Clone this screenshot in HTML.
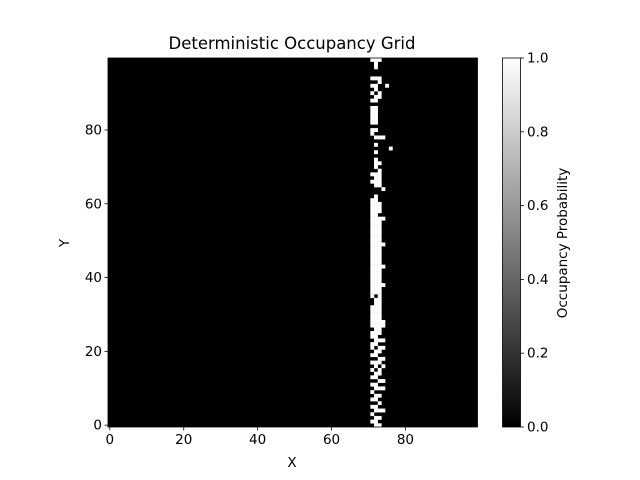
<!DOCTYPE html>
<html><head><meta charset="utf-8"><style>
body{margin:0;background:#fff;}
svg{display:block;font-family:"DejaVu Sans","Liberation Sans",sans-serif;}
</style></head><body>
<svg id="chart" width="640" height="480">
<defs><linearGradient id="cg" x1="0" y1="1" x2="0" y2="0"><stop offset="0" stop-color="#000"/><stop offset="1" stop-color="#fff"/></linearGradient></defs>
<text x="292" y="49" text-anchor="middle" font-size="16.5">Deterministic Occupancy Grid</text>
<rect x="108" y="58" width="369.5" height="369" fill="#000"/>
<g id="cells"></g>
<g id="axes"></g>
<text x="292" y="467" text-anchor="middle" font-size="13.5">X</text>
<text transform="translate(69,243) rotate(-90)" text-anchor="middle" font-size="13.5">Y</text>
<rect x="502.5" y="58" width="18" height="369" fill="url(#cg)" stroke="#000" stroke-width="0.8"/>
<g id="cbticks"></g>
<text transform="translate(567,243) rotate(-90)" text-anchor="middle" font-size="13.5">Occupancy Probability</text>
</svg>
<script>
const gridSize = 100;
const xTicks = [0,20,40,60,80];
const yTicks = [0,20,40,60,80];
const cbTicks = ["0.0","0.2","0.4","0.6","0.8","1.0"];
const occupiedRows = [
[72,73],[71,72],[72,73],[71],[72,73,74],[71,72],[73],[71,72],[72,73],[71],
[72,73,74],[71,72],[73,74],[71,72],[72,73],[71,73],[72,74],[71,72,73],[73,74],[71,72],
[72,73],[71,73,74],[71,72],[72,73,74],[71,72],[71,72,73],[72,73],[71,72,73,74],[71,72,73,74],[71,72,73],
[71,72,73],[71,72,73],[71,72,73],[72,73],[72,73],[71,73],[71,72,73],[71,72,73],[71,72,73,74],[71,72,73],
[71,72,73],[71,72,73],[71,72,73],[71,72,73,74],[71,72,73],[71,72,73],[71,72,73],[71,72,73],[71,72,73],[71,72,73,74],
[71,72,73],[71,72,73],[71,72,73],[71,72,73],[71,72,73],[71,72,73],[71,72,73,74],[71,72],[71,72,73],[71,72,73],
[71,72,73],[71,72],[72],[],[74],[72,73],[71,72,73],[72,73],[71,72,73],[73],
[72],[72,73],[72],[],[72],[76],[72],[],[72,73,74],[71],
[71,72],[],[71,72],[71,72],[71,72],[71,72],[71,72],[],[71,72],[72,73],
[71,73],[72],[71,72,75],[73],[71,72,73],[],[],[72],[72],[71,72,73]
];
const px0=108, px1=477.5, py0=427, py1=58;
const cw=(px1-px0)/gridSize, ch=(py0-py1)/gridSize;
const xs=v=>px0+(v+0.5)*cw, ys=v=>py0-(v+0.5)*ch;
const NS="http://www.w3.org/2000/svg";
const cells=document.getElementById('cells');
occupiedRows.forEach((row,y)=>{row.forEach(x=>{
  const r=document.createElementNS(NS,'rect');
  r.setAttribute('x',(xs(x)-cw/2).toFixed(2));r.setAttribute('y',(ys(y)-ch/2).toFixed(2));
  r.setAttribute('width',(cw+0.2).toFixed(2));r.setAttribute('height',(ch+0.2).toFixed(2));
  r.setAttribute('fill','#fff');
  
  
  cells.appendChild(r);
});});
const axes=document.getElementById('axes');
function add(parent,tag,attrs,text){const e=document.createElementNS(NS,tag);for(const k in attrs)e.setAttribute(k,attrs[k]);if(text!==undefined)e.textContent=text;parent.appendChild(e);return e;}
add(axes,'rect',{x:px0,y:py1,width:px1-px0,height:py0-py1,fill:'none',stroke:'#000','stroke-width':0.8});
xTicks.forEach(t=>{const x=xs(t);
  add(axes,'line',{x1:x,x2:x,y1:py0,y2:py0+3.5,stroke:'#000','stroke-width':0.8});
  const tx=add(axes,'text',{x:x,y:py0+17,'text-anchor':'middle','font-size':13.5},t);
  
  
});
yTicks.forEach(t=>{const y=ys(t);
  add(axes,'line',{x1:px0-3.5,x2:px0,y1:y,y2:y,stroke:'#000','stroke-width':0.8});
  const tx=add(axes,'text',{x:px0-6,y:y+4.5,'text-anchor':'end','font-size':13.5},t);
  
  
});
const cb=document.getElementById('cbticks');
cbTicks.forEach((t,i)=>{const y=427-i*(369/5);
  add(cb,'line',{x1:520.5,x2:524,y1:y,y2:y,stroke:'#000','stroke-width':0.8});
  const tx=add(cb,'text',{x:527,y:y+4.5,'font-size':13.5},t);
  
  
});
</script>
</body></html>
